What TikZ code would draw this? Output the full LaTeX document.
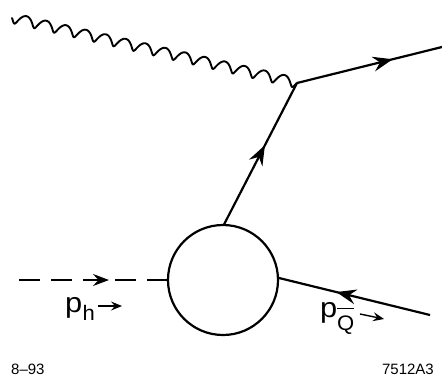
\documentclass[tikz,border=0pt]{standalone}
\usepackage{fontspec}
\setmainfont{Liberation Sans}
\usetikzlibrary{arrows.meta,decorations.markings}
\tikzset{
 line/.style={line width=2.2pt,line cap=butt},
 midarrow/.style={postaction={decorate},decoration={markings,mark=at position #1 with {\arrow[line width=1.2pt]{Stealth[length=20pt,width=15pt,inset=7pt]}}}},
 smallarrow/.style={line width=1.4pt,-{Stealth[length=11pt,width=9pt,inset=4pt]}},
 photon/.style={line width=1.9pt,line cap=round,line join=round},
 lab/.style={anchor=base west,inner sep=0pt,xscale=1.1,font=\fontsize{28}{28}\selectfont},
 sub/.style={anchor=base west,inner sep=0pt,xscale=1.05,font=\fontsize{21}{21}\selectfont},
 foot/.style={inner sep=0pt,font=\fontsize{15}{15}\selectfont},
}
\begin{document}
\begin{tikzpicture}[x=1pt,y=-1pt]
\useasboundingbox (0,0) rectangle (442,381);
\node[draw,circle,line width=2.2pt,minimum size=110pt,inner sep=0pt] (blob) at (223,280) {};
\coordinate (vtx) at (297,83);
\coordinate (pho) at (12,18);
\coordinate (outq) at (442,47);
\coordinate (inh) at (19,280);
\coordinate (inq) at (430,315);
\coordinate (blobtop) at (224,224.5);
\coordinate (blobright) at (279,278);
\begin{scope}[shift={(pho)},rotate=-12.85]
\draw[photon] plot[smooth,samples=350,domain=90:5310,variable=\t] ({(\t-90)*0.05655+1.5*sin(\t)-1.5},{-5*cos(\t)});
\end{scope}
\draw[line,midarrow=0.66] (vtx) -- (outq);
\draw[line,midarrow=0.56] (blobtop) -- (vtx);
\draw[line,dash pattern=on 21pt off 11pt] (inh) -- (blob.west);
\draw[line,midarrow=0.62,draw opacity=0] (inh) -- (blob.west);
\draw[line,midarrow=0.62] (inq) -- (blobright);
\node[lab] (ph) at (65,312) {p};
\node[sub] (phs) at (82.5,320) {h};
\coordinate (pha) at (98,306);
\coordinate (phb) at (122,306);
\draw[smallarrow] (pha) -- (phb);
\node[lab] (pq) at (320,317) {p};
\node[sub] (pqs) at (337,330) {$\overline{\hbox{\vrule width 0pt height 20pt Q}}$};
\coordinate (pqa) at (360,314);
\coordinate (pqb) at (384,319);
\draw[smallarrow] (pqa) -- (pqb);
\node[foot,anchor=base west] (d) at (11,374) {8–93};
\node[foot,anchor=base east] (n) at (434,374) {7512A3};
\end{tikzpicture}
\end{document}
